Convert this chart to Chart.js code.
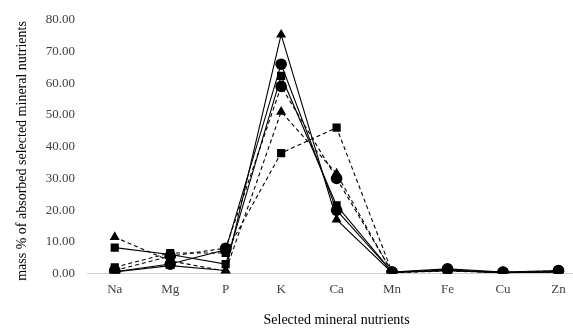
<!DOCTYPE html>
<html>
<head>
<meta charset="utf-8">
<script src="https://cdn.jsdelivr.net/npm/chart.js@4.4.1/dist/chart.umd.min.js"></script>
<style>
html,body{margin:0;padding:0;background:#fff;overflow:hidden;width:573px;height:329px;}
#wrap{position:relative;width:592px;height:329px;}
</style>
</head>
<body>
<div id="wrap"><canvas id="c" width="592" height="329"></canvas></div>
<script>
const categories = ["Na","Mg","P","K","Ca","Mn","Fe","Cu","Zn"];
const yTicks = [0,10,20,30,40,50,60,70,80];
const yTitle = 'mass % of absorbed selected mineral nutrients';

const solidTriangle = [0.5, 2.5, 1.0, 75.3, 17.0, 0.3, 1.0, 0.3, 0.5];
const solidCircle   = [0.6, 3.0, 7.5, 66.0, 20.0, 0.5, 1.5, 0.5, 1.0];
const solidSquare   = [8.2, 6.0, 3.0, 62.3, 21.5, 0.5, 1.0, 0.3, 0.6];
const dashedCircle  = [1.0, 5.5, 8.0, 59.0, 30.0, 0.5, 1.2, 0.4, 0.8];
const dashedTriangle= [11.5, 4.0, 0.8, 51.0, 31.5, 0.3, 0.8, 0.3, 0.5];
const dashedSquare  = [2.0, 6.5, 6.5, 38.0, 46.0, 0.5, 1.0, 0.4, 0.5];

const series = [
  {data: solidTriangle, style: 'triangle', dash: []},
  {data: solidCircle, style: 'circle', dash: []},
  {data: solidSquare, style: 'rect', dash: []},
  {data: dashedCircle, style: 'circle', dash: [4,3]},
  {data: dashedTriangle, style: 'triangle', dash: [4,3]},
  {data: dashedSquare, style: 'rect', dash: [4,3]}
];

const datasets = series.map(s => ({
  data: s.data,
  borderColor: '#000',
  backgroundColor: '#000',
  borderWidth: 1.1,
  borderDash: s.dash,
  pointStyle: s.style,
  pointRadius: 5.8,
  pointBorderWidth: 0,
  pointBackgroundColor: '#000',
  tension: 0,
  fill: false
}));

const yTitlePlugin = {
  id: 'yTitlePlugin',
  afterDraw(chart) {
    const ctx = chart.ctx;
    ctx.save();
    ctx.translate(22, 151);
    ctx.rotate(-Math.PI / 2);
    ctx.font = '14px "Liberation Serif"';
    ctx.fillStyle = '#000';
    ctx.textAlign = 'center';
    ctx.textBaseline = 'middle';
    ctx.fillText(yTitle, 0, 0);
    ctx.restore();
  }
};

new Chart(document.getElementById('c'), {
  type: 'line',
  data: {labels: categories, datasets},
  plugins: [yTitlePlugin],
  options: {
    responsive: false,
    animation: false,
    layout: {padding: {top: 12, right: 0, left: 0, bottom: 0}},
    plugins: {legend: {display: false}, tooltip: {enabled: false}},
    scales: {
      x: {
        offset: true,
        grid: {display: false, drawTicks: false},
        border: {display: true, color: '#d0d0d0', width: 1},
        ticks: {color: '#404040', font: {family: 'Liberation Serif', size: 13}, padding: 8, maxRotation: 0},
        title: {display: true, text: 'Selected mineral nutrients', color: '#000', font: {family: 'Liberation Serif', size: 14}, padding: {top: 7, bottom: 0}}
      },
      y: {
        min: 0, max: 80,
        afterBuildTicks: (scale) => { scale.ticks = yTicks.map(v => ({value: v})); },
        afterFit: (scale) => { scale.width = 87; },
        grid: {display: false, drawTicks: false},
        border: {display: false},
        ticks: {color: '#404040', font: {family: 'Liberation Serif', size: 13}, padding: 12,
          callback: (v) => Number(v).toFixed(2)}
      }
    }
  }
});
</script>
</body>
</html>
